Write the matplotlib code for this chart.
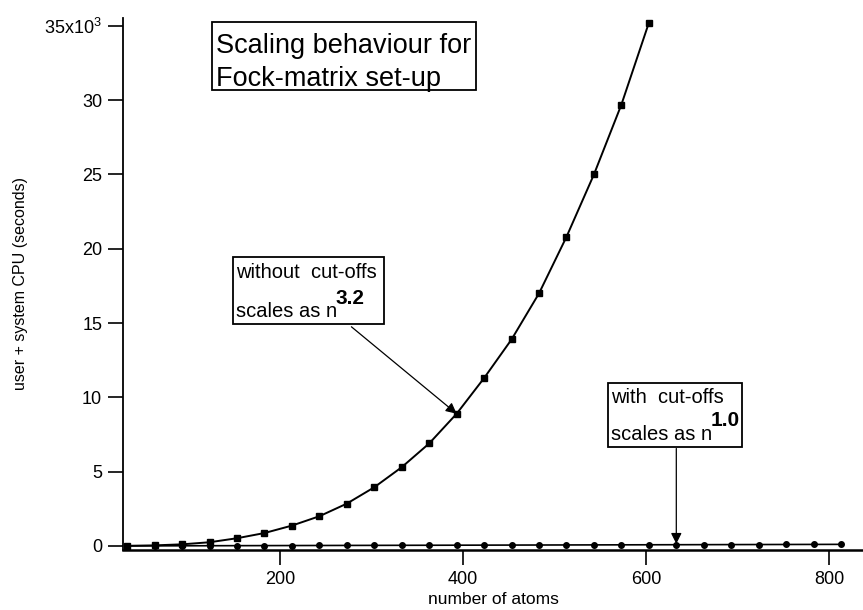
import matplotlib
matplotlib.use('Agg')
import matplotlib.pyplot as plt
from matplotlib.patches import Rectangle

plt.rcParams['font.family'] = ['Liberation Sans', 'DejaVu Sans']
plt.rcParams['mathtext.fontset'] = 'custom'
plt.rcParams['mathtext.rm'] = 'Liberation Sans'
plt.rcParams['mathtext.bf'] = 'Liberation Sans:bold'

# number of atoms
atoms_full = [33, 63, 93, 123, 153, 183, 213, 243, 273, 303, 333, 363, 393, 423,
              453, 483, 513, 543, 573, 603]
atoms_cut = [33, 63, 93, 123, 153, 183, 213, 243, 273, 303, 333, 363, 393, 423,
             453, 483, 513, 543, 573, 603, 633, 663, 693, 723, 753, 783, 813]
# user + system CPU (seconds)
cpu_full = [10, 40, 110, 250, 520, 870, 1370, 2000, 2850, 3950, 5300, 6900,
            8900, 11300, 13900, 17000, 20800, 25000, 29700, 35200]
cpu_cut = [4, 8, 12, 16, 20, 24, 28, 32, 36, 40, 44, 48, 52, 56, 60,
           64, 68, 72, 76, 80, 84, 88, 92, 96, 100, 104, 108]

yticks = [0, 5000, 10000, 15000, 20000, 25000, 30000, 35000]
ytick_labels = ['0', '5', '10', '15', '20', '25', '30', r'35x10$^{3}$']
xticks = [200, 400, 600, 800]

fig = plt.figure(figsize=(8.63, 6.10), dpi=100)
ax = fig.add_axes([0.1425, 0.0984, 0.8575, 0.8721])

ax.plot(atoms_full, cpu_full, '-', color='black', lw=1.4,
        marker='s', ms=4, mfc='black', mec='black')
ax.plot(atoms_cut, cpu_cut, '-', color='black', lw=1.2,
        marker='o', ms=4, mfc='black', mec='black')

ax.set_xlim(28.4, 837)
ax.set_ylim(-270, 35530)
ax.set_xticks(xticks)
ax.set_yticks(yticks)
ax.set_yticklabels(ytick_labels)
ax.tick_params(direction='out', length=11, width=1.2, labelsize=13, pad=4)
for side in ['top', 'right']:
    ax.spines[side].set_visible(False)
ax.spines['left'].set_linewidth(1.3)
ax.spines['bottom'].set_linewidth(1.8)

ax.set_xlabel('number of atoms', fontsize=12.5, labelpad=3)
ax.set_ylabel('user + system CPU (seconds)', fontsize=11.5, labelpad=12)


def box(x0, x1, y0, y1):
    ax.add_patch(Rectangle((x0, y0), x1 - x0, y1 - y0, facecolor='white',
                           edgecolor='black', lw=1.3, zorder=4))


# title box
box(125.7, 414, 30690, 35260)
ax.text(130, 33150, 'Scaling behaviour for', fontsize=19.5, zorder=5)
ax.text(130, 30950, 'Fock-matrix set-up', fontsize=19.5, zorder=5)

# without cut-offs
box(148.6, 314, 14940, 19450)
ax.text(152, 18050, 'without  cut-offs', fontsize=14.5, zorder=5)
ax.text(152, 15420, 'scales as n', fontsize=14.5, zorder=5)
ax.text(261, 16300, '3.2', fontsize=15, fontweight='bold', zorder=5)
ax.annotate('', xy=(atoms_full[12], cpu_full[12]), xytext=(278, 14750),
            arrowprops=dict(arrowstyle='-|>', color='black', lw=0.9,
                            mutation_scale=16, shrinkA=0, shrinkB=0))

# with cut-offs
box(558, 705, 6660, 10970)
ax.text(562, 9620, 'with  cut-offs', fontsize=14.5, zorder=5)
ax.text(562, 7130, 'scales as n', fontsize=14.5, zorder=5)
ax.text(671, 8100, '1.0', fontsize=15, fontweight='bold', zorder=5)
ax.annotate('', xy=(atoms_cut[20], cpu_cut[20] + 60), xytext=(633, 6560),
            arrowprops=dict(arrowstyle='-|>', color='black', lw=0.9,
                            mutation_scale=16, shrinkA=0, shrinkB=0))

fig.savefig('out.png', dpi=100)
